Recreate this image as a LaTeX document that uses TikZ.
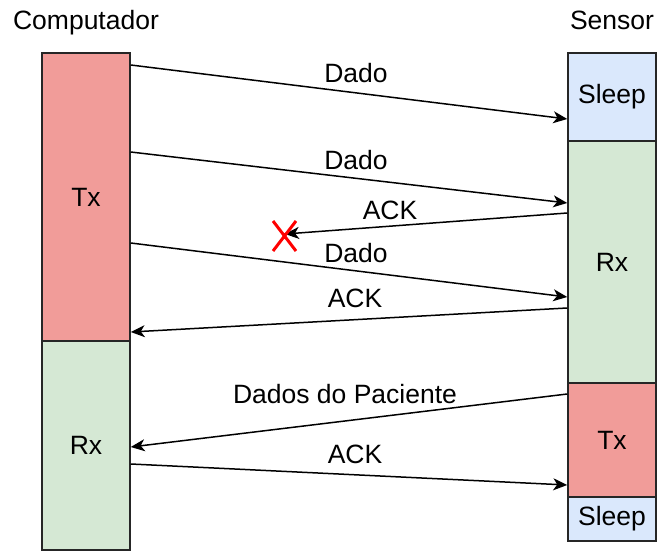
\documentclass[tikz,border=0pt]{standalone}
\usepackage{fontspec}
\setmainfont{Liberation Sans}
\usetikzlibrary{arrows.meta}
\definecolor{txred}{HTML}{F19C99}
\definecolor{rxgreen}{HTML}{D5E8D4}
\definecolor{sleepblue}{HTML}{DAE8FC}
\tikzset{
  block/.style={draw=black!85, line width=1.5pt, minimum width=88pt, inner sep=0pt},
  msg/.style={line width=1.5pt, -{Stealth[length=14pt,width=12pt,inset=4pt]}},
  lbl/.style={anchor=base, inner sep=0pt},
}
\begin{document}
\begin{tikzpicture}[x=1pt,y=-1pt,font=\fontsize{26.5}{30}\selectfont]
\useasboundingbox (0,0) rectangle (657,551);
% computador
\node[lbl] (comp) at (86,30) {Computador};
\node[block, fill=txred, minimum height=288pt] (ctx) at (86,197) {Tx};
\node[block, fill=rxgreen, minimum height=209pt] (crx) at (86,445.5) {Rx};
% sensor
\node[lbl] (sens) at (612,30) {Sensor};
\node[block, fill=sleepblue, minimum height=88pt] (ssl1) at (612,97) {Sleep};
\node[block, fill=rxgreen, minimum height=242pt] (srx) at (612,262) {Rx};
\node[block, fill=txred, minimum height=114pt] (stx) at (612,440) {Tx};
\node[block, fill=sleepblue, minimum height=44pt] (ssl2) at (612,519) {Sleep};
% mensagens
\draw[msg] (ctx.east |- 0,65) -- (ssl1.west |- 0,119);
\node[lbl] (d1) at (356,83) {Dado};
\draw[msg] (ctx.east |- 0,152) -- (srx.west |- 0,203);
\node[lbl] (d2) at (356,169) {Dado};
\coordinate (lost) at (285,234);
\draw[msg] (srx.west |- 0,213) -- (lost);
\node[lbl] (a1) at (390,219) {ACK};
\draw[red, line width=3pt] (273,221) -- (296,251) (296,221) -- (273,251);
\draw[msg] (ctx.east |- 0,243) -- (srx.west |- 0,297);
\node[lbl] (d3) at (356,262) {Dado};
\draw[msg] (srx.west |- 0,308) -- (ctx.east |- 0,332);
\node[lbl] (a2) at (355,307) {ACK};
\draw[msg] (stx.west |- 0,394) -- (crx.east |- 0,447);
\node[lbl] (dp) at (345,403) {Dados do Paciente};
\draw[msg] (crx.east |- 0,464) -- (stx.west |- 0,485);
\node[lbl] (a3) at (355,463) {ACK};
\end{tikzpicture}
\end{document}
